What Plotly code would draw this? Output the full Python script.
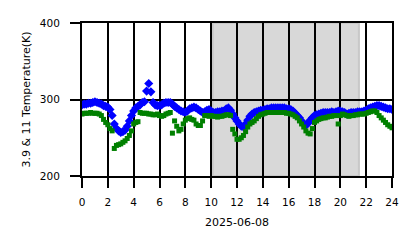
import plotly.graph_objects as go

# 10-minute samples over 2025-06-08, hours 0..24
hours = [i / 6 for i in range(145)]

temp_3p9 = [
    293, 294, 294, 295, 295, 296,
    297, 296, 295, 294, 292, 291,
    290, 287, 279, 268, 262, 259,
    257, 258, 260, 265, 272, 279,
    285, 289, 291, 293, 296, 297,
    311, 321, 310, 296, 293, 292,
    292, 293, 295, 296, 296, 296,
    294, 291, 289, 287, 285, 284,
    283, 285, 288, 289, 290, 289,
    287, 285, 283, 284, 286, 287,
    285, 283, 283, 284, 284, 285,
    285, 288, 289, 286, 281, 276,
    272, 268, 265, 264, 268, 273,
    278, 281, 283, 284, 285, 286,
    286, 287, 288, 288, 289, 289,
    289, 289, 289, 289, 289, 288,
    288, 287, 285, 282, 279, 276,
    272, 268, 266, 269, 273, 276,
    279, 280, 281, 282, 283, 283,
    283, 283, 284, 283, 284, 285,
    285, 284, 283, 281, 282, 283,
    283, 283, 284, 284, 284, 285,
    286, 288, 289, 290, 291, 292,
    292, 291, 290, 289, 288, 288,
    287,
]

temp_11 = [
    281, 282, 282, 282, 283, 282,
    282, 282, 281, 279, 274, 270,
    267, 262, 259, 236, 240, 241,
    242, 244, 246, 249, 253, 259,
    268, 270, 271, 283, 282, 282,
    282, 281, 281, 280, 280, 281,
    279, 278, 279, 281, 282, 283,
    256, 272, 265, 259, 261, 268,
    273, 275, 276, 274, 273, 268,
    266, 266, 272, 279, 279, 278,
    279, 278, 278, 277, 278, 278,
    279, 280, 280, 279, 261, 255,
    248, 248, 250, 253, 258, 264,
    268, 270, 272, 275, 278, 280,
    281, 282, 283, 283, 283, 283,
    283, 283, 283, 283, 283, 282,
    282, 281, 280, 278, 276, 272,
    268, 264, 259, 256, 255, 262,
    270, 272, 274, 275, 276, 276,
    277, 278, 278, 279, 279, 268,
    279, 281, 280, 279, 278, 279,
    279, 280, 280, 281, 281, 281,
    282, 283, 284, 285, 285, 283,
    279, 276, 273, 270, 267, 265,
    263,
]

night_start = 10.12
night_end = 21.44

x_ticks = list(range(0, 25, 2))
y_ticks = [200, 300, 400]
x_title = "2025-06-08"
y_title = "3.9 & 11 Temperature(K)"

fig = go.Figure()
fig.add_trace(go.Scatter(
    x=hours, y=temp_3p9, mode="markers",
    marker=dict(symbol="diamond", size=7, color="#0000ff", line=dict(width=0)),
    name="3.9", showlegend=False,
))
fig.add_trace(go.Scatter(
    x=hours, y=temp_11, mode="markers",
    marker=dict(symbol="square", size=5, color="#008000", line=dict(width=0)),
    name="11", showlegend=False,
))

fig.add_shape(
    type="rect", xref="x", yref="paper",
    x0=night_start, x1=night_end, y0=0, y1=1,
    fillcolor="rgb(216,216,216)", line=dict(color="rgb(200,200,200)", width=2),
    layer="below",
)

font = dict(family="DejaVu Sans", size=10.5, color="#000000")
title_font = dict(family="DejaVu Sans", size=11, color="#000000")

fig.update_layout(
    width=418, height=248,
    margin=dict(l=82, r=26, t=23, b=72),
    paper_bgcolor="white", plot_bgcolor="white",
    font=font,
    xaxis=dict(
        range=[0, 24], tickvals=x_ticks, ticktext=[str(v) for v in x_ticks],
        showgrid=True, gridcolor="black", gridwidth=2,
        showline=True, linecolor="black", linewidth=2, mirror=True,
        ticks="outside", ticklen=10, tickwidth=2, tickcolor="black",
        ticklabelstandoff=5, tickfont=font,
        zeroline=False,
        title=dict(text=x_title, font=title_font, standoff=12),
    ),
    yaxis=dict(
        range=[200, 400], tickvals=y_ticks,
        showgrid=True, gridcolor="black", gridwidth=2,
        showline=True, linecolor="black", linewidth=2, mirror=True,
        ticks="outside", ticklen=10, tickwidth=2, tickcolor="black",
        ticklabelstandoff=8, tickfont=font,
        zeroline=False,
        title=dict(text=y_title, font=title_font, standoff=7),
    ),
)

fig.write_html("out.html")
